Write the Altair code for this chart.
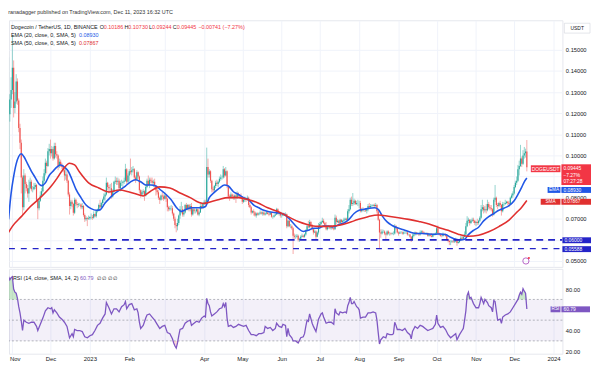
import altair as alt
import pandas as pd

FONT = "Liberation Sans"
INK = "#131722"
UP = "#26a69a"
DOWN = "#ef5350"
RED_TXT = "#f23645"
EMA_C = "#2157e6"
SMA_C = "#e0302f"
LEVEL_C = "#2424c8"
RSI_C = "#7e57c2"
GRID = "#f0f3fa"

W, PH, RH = 561, 250, 86

# ---------------- daily candles (units of 0.0001 USDT), first day 2022-10-29 ----------------
START = "2022-10-29"
OPEN0 = 836
CLOSE = [
    1195, 1265, 1310,
    1415, 1225, 1255, 1350, 1260, 1130, 1060, 895, 755, 905, 865, 845, 820, 845, 875,
    840, 840, 850, 860, 790, 750, 785, 810, 830, 880, 915, 965, 950, 1020, 1030,
    1010, 1030, 985, 1045, 1005, 1000, 950, 970, 955, 945, 930, 905, 910, 880, 815,
    760, 780, 770, 728, 790, 770, 765, 768, 768, 755, 760, 718, 698, 704, 700, 702,
    708, 708, 705, 722, 712, 735, 740, 765, 755, 775, 790, 805, 815, 870, 850,
    845, 845, 805, 830, 875, 880, 875, 880, 845, 870, 870, 875, 880, 935, 875, 905,
    925, 920, 930, 935, 895, 885, 920, 900, 835, 815, 825, 830, 810, 850, 880,
    860, 885, 880, 870, 875, 855, 835, 825, 800, 790, 810, 805, 795,
    810, 795, 755, 745, 750, 750, 725, 700, 670, 665, 680, 715, 745, 745, 720,
    730, 765, 745, 765, 745, 760, 720, 745, 735, 735, 745, 720, 730, 760, 755, 770,
    780, 775, 945, 910, 925, 880, 840, 835, 855, 870, 865, 875, 890, 895, 895,
    935, 905, 925, 855, 805, 800, 815, 805, 800, 810, 800, 820, 810, 805, 800,
    780, 790, 795, 790, 800, 765, 755, 730, 735, 730, 715, 725, 720, 725, 730,
    725, 730, 720, 725, 730, 722, 720, 728, 710, 710, 715, 720, 745, 725, 725, 715,
    715, 725, 720, 722, 665, 690, 665, 665, 655, 620, 615, 615, 620, 600, 605,
    615, 620, 615, 625, 645, 665, 660, 685, 665, 650, 635, 640, 615, 635, 665,
    675, 685, 690, 680, 665, 650, 660, 660, 655, 660, 655, 650, 705, 685, 690,
    680, 695, 685, 690, 695, 700, 695, 735, 745, 790, 770, 775, 785, 770, 775, 775,
    775, 735, 745, 740, 740, 738, 745, 760, 755, 760, 762, 765, 760, 765, 735,
    695, 635, 630, 640, 640, 630, 625, 640, 630, 630, 628, 630, 630, 665, 655, 635,
    630, 635, 635, 630, 635, 635, 635, 625, 625, 615, 600, 620, 625, 635, 630,
    630, 625, 635, 640, 635, 630, 630, 632, 620, 625, 620, 615, 625, 625, 630,
    655, 630, 625, 620, 618, 628, 625, 620, 600, 595, 590, 590, 592, 590, 592,
    600, 585, 590, 600, 610, 605, 615, 625, 665, 690, 695, 680, 690, 695, 690, 680,
    685, 680, 690, 705, 745, 755, 740, 745, 740, 770, 755, 750, 745, 720, 790,
    800, 765, 760, 775, 765, 735, 770, 770, 775, 780, 775, 770, 800, 810, 820,
    850, 870, 880, 935, 950, 985, 960, 1000, 1010, 1018.6, 944.5,
]
HIGH = [
    1465, 1290, 1370,
    1570, 1450, 1300, 1385, 1365, 1270, 1150, 1075, 905, 935, 915, 875, 860, 885, 895,
    885, 855, 870, 870, 865, 795, 795, 830, 845, 900, 935, 985, 975, 1035, 1055,
    1075, 1045, 1040, 1060, 1060, 1020, 1005, 985, 980, 965, 955, 935, 950, 925, 885,
    825, 790, 790, 775, 800, 795, 780, 775, 775, 772, 775, 765, 725, 712, 708, 715,
    712, 725, 718, 735, 725, 742, 748, 772, 790, 780, 795, 820, 825, 895, 875,
    860, 865, 870, 840, 880, 900, 895, 895, 890, 880, 885, 880, 895, 960, 940, 915,
    935, 985, 945, 950, 940, 905, 930, 925, 905, 840, 835, 840, 835, 860, 890,
    905, 895, 895, 895, 885, 890, 860, 850, 835, 805, 815, 825, 815,
    825, 815, 800, 762, 760, 765, 760, 730, 710, 680, 700, 720, 760, 780, 760,
    740, 770, 775, 770, 770, 770, 775, 755, 750, 745, 750, 748, 735, 775, 770, 775,
    790, 790, 1037, 985, 935, 930, 885, 850, 860, 880, 885, 880, 900, 910, 905,
    950, 940, 945, 930, 860, 815, 825, 820, 815, 815, 825, 830, 825, 815, 820,
    805, 795, 805, 800, 810, 805, 775, 760, 740, 745, 735, 730, 730, 730, 740,
    735, 735, 740, 730, 735, 735, 728, 735, 730, 715, 720, 725, 752, 750, 730, 730,
    722, 730, 728, 730, 725, 695, 695, 675, 672, 660, 630, 625, 628, 625, 610,
    622, 630, 625, 630, 650, 672, 690, 695, 690, 675, 655, 650, 645, 640, 680,
    685, 690, 705, 700, 685, 685, 665, 668, 665, 668, 665, 665, 720, 715, 698,
    695, 700, 698, 695, 705, 705, 705, 745, 765, 800, 805, 822, 795, 790, 785, 790,
    785, 785, 752, 755, 745, 745, 750, 770, 775, 770, 768, 770, 772, 775, 770,
    740, 700, 650, 650, 648, 645, 635, 645, 645, 638, 635, 635, 640, 675, 670, 660,
    640, 640, 642, 640, 640, 642, 640, 640, 630, 628, 618, 630, 630, 640, 638,
    635, 632, 645, 645, 645, 640, 635, 635, 635, 630, 630, 632, 630, 632, 635,
    660, 668, 635, 630, 628, 635, 630, 630, 625, 605, 600, 598, 600, 598, 598,
    610, 602, 598, 605, 620, 618, 625, 640, 680, 712, 705, 698, 698, 705, 705, 695,
    690, 700, 695, 712, 765, 790, 765, 760, 770, 790, 780, 765, 765, 750, 800,
    860, 805, 775, 780, 785, 770, 780, 778, 790, 785, 785, 785, 805, 820, 830,
    860, 880, 900, 955, 975, 1050, 995, 1025, 1040, 1032, 1073,
]
LOW = [
    830, 1160, 1225,
    1290, 1180, 1200, 1245, 1240, 1110, 1030, 820, 712, 740, 820, 830, 800, 780, 840,
    830, 825, 835, 840, 780, 698, 740, 780, 805, 825, 870, 905, 915, 945, 1000,
    985, 995, 975, 980, 990, 985, 930, 940, 945, 935, 920, 880, 885, 870, 805,
    720, 745, 755, 715, 722, 760, 750, 755, 760, 745, 745, 710, 685, 690, 665, 695,
    695, 698, 695, 700, 708, 705, 730, 735, 750, 748, 765, 775, 785, 810, 835,
    820, 830, 795, 800, 825, 865, 860, 860, 840, 830, 855, 850, 865, 875, 865, 870,
    880, 910, 905, 920, 885, 870, 880, 890, 820, 800, 810, 815, 785, 805, 845,
    855, 845, 870, 860, 850, 845, 810, 815, 790, 770, 785, 790, 785,
    790, 780, 735, 735, 738, 740, 715, 690, 655, 636, 645, 670, 700, 725, 710,
    710, 725, 740, 740, 735, 735, 710, 715, 725, 725, 730, 715, 712, 728, 745, 748,
    765, 765, 770, 895, 895, 870, 825, 825, 825, 845, 855, 850, 870, 880, 885,
    890, 895, 900, 845, 795, 785, 795, 795, 790, 790, 775, 795, 800, 800, 795,
    770, 775, 780, 780, 785, 755, 750, 720, 725, 715, 710, 705, 715, 715, 720,
    720, 715, 715, 715, 720, 720, 712, 718, 705, 700, 705, 712, 718, 720, 715, 705,
    705, 712, 715, 715, 655, 660, 660, 655, 648, 533, 605, 605, 610, 592, 590,
    600, 612, 610, 610, 620, 640, 655, 655, 660, 645, 625, 632, 605, 612, 625,
    660, 668, 680, 675, 660, 645, 645, 652, 650, 648, 650, 645, 648, 675, 680,
    675, 670, 675, 680, 685, 690, 690, 690, 725, 740, 760, 760, 765, 765, 765, 760,
    750, 730, 730, 735, 732, 732, 725, 735, 745, 750, 755, 758, 755, 750, 725,
    690, 556, 610, 625, 632, 622, 600, 620, 625, 620, 622, 625, 622, 625, 648, 630,
    620, 628, 630, 625, 625, 628, 628, 620, 620, 610, 590, 598, 612, 620, 622,
    625, 618, 620, 630, 630, 625, 625, 625, 615, 615, 615, 612, 612, 620, 622,
    625, 628, 620, 615, 612, 615, 620, 615, 595, 588, 575, 575, 585, 585, 585,
    588, 572, 582, 585, 595, 598, 600, 612, 620, 660, 678, 668, 675, 685, 680, 670,
    665, 670, 672, 685, 700, 735, 725, 730, 725, 735, 745, 740, 735, 710, 715,
    780, 755, 745, 755, 755, 715, 730, 760, 765, 770, 765, 755, 765, 795, 800,
    815, 845, 860, 875, 905, 945, 945, 955, 985, 990, 924.4,
]

# ---------------- indicator readings ----------------
EMA_DATES = [
    "2022-10-29", "2022-10-31", "2022-11-02", "2022-11-04", "2022-11-06", "2022-11-08",
    "2022-11-10", "2022-11-13", "2022-11-16", "2022-11-19", "2022-11-22", "2022-11-24",
    "2022-11-27", "2022-11-30", "2022-12-03", "2022-12-06", "2022-12-09", "2022-12-12",
    "2022-12-15", "2022-12-18", "2022-12-21", "2022-12-25", "2022-12-29", "2023-01-02",
    "2023-01-06", "2023-01-09", "2023-01-13", "2023-01-17", "2023-01-21", "2023-01-25",
    "2023-01-29", "2023-02-02", "2023-02-06", "2023-02-10", "2023-02-14", "2023-02-18",
    "2023-02-22", "2023-02-26", "2023-03-02", "2023-03-06", "2023-03-10", "2023-03-14",
    "2023-03-18", "2023-03-22", "2023-03-26", "2023-03-30", "2023-04-02", "2023-04-05",
    "2023-04-09", "2023-04-13", "2023-04-17", "2023-04-20", "2023-04-24", "2023-04-28",
    "2023-05-02", "2023-05-06", "2023-05-10", "2023-05-14", "2023-05-18", "2023-05-22",
    "2023-05-26", "2023-05-30", "2023-06-03", "2023-06-07", "2023-06-10", "2023-06-14",
    "2023-06-18", "2023-06-22", "2023-06-26", "2023-06-30", "2023-07-04", "2023-07-08",
    "2023-07-12", "2023-07-16", "2023-07-20", "2023-07-24", "2023-07-28", "2023-08-01",
    "2023-08-05", "2023-08-09", "2023-08-13", "2023-08-16", "2023-08-19", "2023-08-23",
    "2023-08-27", "2023-08-31", "2023-09-05", "2023-09-10", "2023-09-15", "2023-09-20",
    "2023-09-25", "2023-09-30", "2023-10-04", "2023-10-08", "2023-10-12", "2023-10-16",
    "2023-10-20", "2023-10-23", "2023-10-26", "2023-10-30", "2023-11-03", "2023-11-07",
    "2023-11-11", "2023-11-15", "2023-11-19", "2023-11-23", "2023-11-27", "2023-12-01",
    "2023-12-04", "2023-12-07", "2023-12-09", "2023-12-11",
]
EMA_VALUES = [
    697, 820, 900, 960, 995, 1008, 995, 960, 925, 895, 865, 857,
    870, 905, 925, 945, 955, 945, 925, 885, 840, 800, 765, 748,
    740, 742, 775, 800, 822, 838, 855, 875, 885, 875, 860, 860,
    855, 835, 815, 790, 755, 735, 745, 752, 752, 752, 758, 800,
    825, 845, 860, 855, 828, 815, 800, 790, 765, 752, 740, 733,
    730, 727, 720, 700, 680, 655, 640, 645, 655, 655, 665, 665,
    662, 672, 680, 697, 725, 740, 745, 750, 752, 745, 715, 685,
    668, 657, 648, 637, 630, 630, 628, 627, 628, 625, 612, 603,
    600, 603, 625, 645, 660, 690, 710, 725, 740, 750, 762, 785,
    815, 850, 875, 893,
]
SMA_DATES = [
    "2022-10-29", "2022-11-01", "2022-11-08", "2022-11-15", "2022-11-23", "2022-12-01",
    "2022-12-06", "2022-12-11", "2022-12-16", "2022-12-20", "2022-12-24", "2022-12-31",
    "2023-01-08", "2023-01-16", "2023-01-24", "2023-02-01", "2023-02-09", "2023-02-12",
    "2023-02-17", "2023-02-25", "2023-03-05", "2023-03-13", "2023-03-21", "2023-03-28",
    "2023-04-01", "2023-04-05", "2023-04-12", "2023-04-20", "2023-04-28", "2023-05-06",
    "2023-05-13", "2023-05-21", "2023-05-29", "2023-06-06", "2023-06-14", "2023-06-21",
    "2023-06-29", "2023-07-07", "2023-07-15", "2023-07-23", "2023-07-31", "2023-08-08",
    "2023-08-16", "2023-08-24", "2023-09-01", "2023-09-09", "2023-09-17", "2023-09-25",
    "2023-10-02", "2023-10-10", "2023-10-18", "2023-10-26", "2023-11-03", "2023-11-11",
    "2023-11-19", "2023-11-27", "2023-12-03", "2023-12-07", "2023-12-11",
]
SMA_VALUES = [
    636, 664, 710, 757, 800, 850, 890, 935, 963, 955, 920, 870,
    846, 827, 836, 827, 813, 808, 827, 851, 846, 822, 800, 777,
    772, 778, 790, 800, 800, 790, 776, 752, 734, 710, 687, 673,
    664, 664, 668, 680, 696, 710, 718, 712, 705, 697, 687, 675,
    660, 645, 627, 617, 622, 638, 663, 694, 730, 755, 786.7,
]
RSI_DATES = [
    "2022-10-29", "2022-10-30", "2022-10-31", "2022-11-01", "2022-11-02", "2022-11-03",
    "2022-11-04", "2022-11-05", "2022-11-06", "2022-11-07", "2022-11-08", "2022-11-09",
    "2022-11-10", "2022-11-12", "2022-11-14", "2022-11-16", "2022-11-18", "2022-11-20",
    "2022-11-21", "2022-11-23", "2022-11-25", "2022-11-27", "2022-11-29", "2022-12-01",
    "2022-12-02", "2022-12-03", "2022-12-04", "2022-12-06", "2022-12-08", "2022-12-10",
    "2022-12-12", "2022-12-14", "2022-12-16", "2022-12-18", "2022-12-19", "2022-12-20",
    "2022-12-22", "2022-12-24", "2022-12-26", "2022-12-28", "2022-12-30", "2023-01-01",
    "2023-01-03", "2023-01-05", "2023-01-07", "2023-01-09", "2023-01-11", "2023-01-13",
    "2023-01-14", "2023-01-16", "2023-01-18", "2023-01-20", "2023-01-22", "2023-01-24",
    "2023-01-26", "2023-01-28", "2023-01-29", "2023-01-30", "2023-02-01", "2023-02-03",
    "2023-02-05", "2023-02-07", "2023-02-08", "2023-02-09", "2023-02-10", "2023-02-12",
    "2023-02-14", "2023-02-15", "2023-02-17", "2023-02-19", "2023-02-21", "2023-02-23",
    "2023-02-25", "2023-02-27", "2023-03-01", "2023-03-03", "2023-03-05", "2023-03-07",
    "2023-03-08", "2023-03-09", "2023-03-10", "2023-03-11", "2023-03-12", "2023-03-13",
    "2023-03-15", "2023-03-17", "2023-03-19", "2023-03-21", "2023-03-22", "2023-03-24",
    "2023-03-26", "2023-03-28", "2023-03-30", "2023-04-01", "2023-04-02", "2023-04-03",
    "2023-04-04", "2023-04-05", "2023-04-06", "2023-04-07", "2023-04-09", "2023-04-11",
    "2023-04-13", "2023-04-15", "2023-04-16", "2023-04-17", "2023-04-18", "2023-04-19",
    "2023-04-20", "2023-04-22", "2023-04-24", "2023-04-26", "2023-04-28", "2023-04-30",
    "2023-05-02", "2023-05-04", "2023-05-06", "2023-05-08", "2023-05-10", "2023-05-12",
    "2023-05-14", "2023-05-16", "2023-05-18", "2023-05-19", "2023-05-21", "2023-05-23",
    "2023-05-25", "2023-05-27", "2023-05-28", "2023-05-30", "2023-06-01", "2023-06-02",
    "2023-06-04", "2023-06-05", "2023-06-06", "2023-06-07", "2023-06-09", "2023-06-10",
    "2023-06-12", "2023-06-14", "2023-06-16", "2023-06-18", "2023-06-19", "2023-06-20",
    "2023-06-21", "2023-06-22", "2023-06-23", "2023-06-25", "2023-06-26", "2023-06-28",
    "2023-06-29", "2023-06-30", "2023-07-02", "2023-07-03", "2023-07-04", "2023-07-06",
    "2023-07-08", "2023-07-10", "2023-07-12", "2023-07-13", "2023-07-14", "2023-07-16",
    "2023-07-17", "2023-07-19", "2023-07-21", "2023-07-22", "2023-07-23", "2023-07-24",
    "2023-07-25", "2023-07-26", "2023-07-27", "2023-07-28", "2023-07-30", "2023-07-31",
    "2023-08-01", "2023-08-02", "2023-08-04", "2023-08-06", "2023-08-08", "2023-08-10",
    "2023-08-12", "2023-08-14", "2023-08-15", "2023-08-16", "2023-08-17", "2023-08-18",
    "2023-08-20", "2023-08-22", "2023-08-23", "2023-08-25", "2023-08-27", "2023-08-28",
    "2023-08-29", "2023-08-30", "2023-08-31", "2023-09-02", "2023-09-04", "2023-09-06",
    "2023-09-08", "2023-09-10", "2023-09-11", "2023-09-12", "2023-09-14", "2023-09-16",
    "2023-09-18", "2023-09-20", "2023-09-22", "2023-09-24", "2023-09-26", "2023-09-28",
    "2023-09-30", "2023-10-01", "2023-10-02", "2023-10-04", "2023-10-06", "2023-10-08",
    "2023-10-10", "2023-10-12", "2023-10-14", "2023-10-16", "2023-10-17", "2023-10-19",
    "2023-10-21", "2023-10-22", "2023-10-23", "2023-10-24", "2023-10-25", "2023-10-26",
    "2023-10-27", "2023-10-28", "2023-10-30", "2023-11-01", "2023-11-03", "2023-11-04",
    "2023-11-05", "2023-11-07", "2023-11-08", "2023-11-10", "2023-11-11", "2023-11-13",
    "2023-11-14", "2023-11-15", "2023-11-16", "2023-11-17", "2023-11-18", "2023-11-20",
    "2023-11-21", "2023-11-22", "2023-11-24", "2023-11-26", "2023-11-28", "2023-11-30",
    "2023-12-02", "2023-12-04", "2023-12-05", "2023-12-06", "2023-12-07", "2023-12-08",
    "2023-12-09", "2023-12-10", "2023-12-11",
]
RSI_VALUES = [
    92, 89, 91, 92, 80, 77,
    76, 71, 63, 57, 49, 40,
    50, 48, 47, 48, 48, 44,
    40, 46, 52, 59, 62, 61,
    62, 57, 60, 57, 53, 51,
    48, 44, 33, 37, 34, 41,
    40, 40, 39, 34, 33, 35,
    36, 40, 45, 47, 52, 56,
    67, 62, 56, 61, 61, 58,
    63, 65, 68, 61, 65, 66,
    60, 61, 57, 48, 42, 45,
    52, 55, 56, 53, 50, 46,
    42, 44, 45, 38, 37, 32,
    28, 25, 23, 28, 35, 41,
    42, 47, 49, 50, 45, 47,
    49, 48, 52, 54, 53, 71,
    66, 64, 58, 54, 56, 58,
    61, 62, 66, 63, 67, 52,
    44, 45, 43, 44, 46, 45,
    44, 45, 40, 36, 36, 35,
    37, 37, 38, 44, 42, 43,
    40, 42, 47, 44, 43, 46,
    45, 34, 42, 36, 33, 30,
    30, 28, 33, 34, 37, 44,
    50, 49, 56, 47, 44, 39,
    45, 51, 56, 57, 53, 47,
    48, 48, 46, 61, 57, 55,
    58, 57, 58, 57, 64, 67,
    72, 66, 66, 68, 63, 62,
    60, 52, 53, 53, 57, 57,
    58, 57, 50, 38, 27, 31,
    34, 33, 37, 36, 36, 37,
    48, 45, 41, 41, 40, 42,
    38, 36, 32, 39, 44, 42,
    45, 44, 42, 40, 41, 42,
    46, 55, 47, 43, 44, 41,
    36, 33, 35, 37, 31, 36,
    40, 42, 50, 59, 74, 77,
    71, 72, 66, 62, 62, 66,
    72, 66, 70, 67, 64, 62,
    58, 69, 68, 59, 50, 51,
    47, 53, 55, 56, 58, 62,
    66, 70, 74, 77, 75, 80.5,
    78, 76, 60.79,
]

LEVEL_VALUES = [0.06, 0.05588]
LEVEL_FROM = ["2022-12-20T00:00:00Z", "2022-10-29T08:00:00Z"]
LEVEL_TO = ["2024-01-08T00:00:00Z", "2024-01-08T00:00:00Z"]
LEVEL_KIND = ["upper", "lower"]
PRICE_TICKS = [0.05, 0.06, 0.07, 0.08, 0.09, 0.10, 0.11, 0.12, 0.13, 0.14, 0.15]
RSI_TICKS = [20, 40, 60, 80]
RSI_LEVELS = [70, 50, 30]
MONTHS = [(2022, 11), (2022, 12)] + [(2023, m) for m in range(1, 13)] + [(2024, 1)]

# ---------------- tables ----------------
assert len(CLOSE) == len(HIGH) == len(LOW)
dates = pd.date_range(START, periods=len(CLOSE), freq="D").strftime("%Y-%m-%d")
close = [v / 1e4 for v in CLOSE]
opens = [OPEN0 / 1e4] + close[:-1]
candles = pd.DataFrame({
    "date": list(dates), "open": opens, "close": close,
    "high": [v / 1e4 for v in HIGH], "low": [v / 1e4 for v in LOW],
})
candles["dir"] = ["up" if c >= o else "down" for o, c in zip(candles["open"], candles["close"])]
ema = pd.DataFrame({"date": EMA_DATES, "v": [v / 1e4 for v in EMA_VALUES]})
sma = pd.DataFrame({"date": SMA_DATES, "v": [v / 1e4 for v in SMA_VALUES]})
rsi = pd.DataFrame({"date": RSI_DATES, "v": RSI_VALUES})
levels = pd.DataFrame({"start": LEVEL_FROM, "end": LEVEL_TO, "level": LEVEL_VALUES, "kind": LEVEL_KIND})
rsi_levels = pd.DataFrame({"lvl": RSI_LEVELS})
band = pd.DataFrame({"hi": [70], "lo": [30]})
ONE = pd.DataFrame({"k": [0]})

XDOM = [alt.DateTime(year=2022, month=10, date=29, hours=8, utc=True),
        alt.DateTime(year=2024, month=1, date=8, utc=True)]
month_vals = [alt.DateTime(year=y, month=m, date=1, utc=True) for y, m in MONTHS]
xscale = alt.Scale(type="utc", domain=XDOM)
py = alt.Scale(domain=[0.047196, 0.16402], nice=False, zero=False)
ry = alt.Scale(domain=[17.62, 99.52], nice=False, zero=False)
cscale = alt.Scale(domain=["up", "down"], range=[UP, DOWN])

grid_axis = alt.Axis(values=month_vals, grid=True, gridColor=GRID, labels=False, ticks=False,
                     domain=False, title=None)
# labels for 0.06 / 0.09 sit under the price tags on the scale, as in the reference
price_axis = alt.Axis(orient="right", values=PRICE_TICKS, labelFontSize=5.8,
                      labelColor=INK, labelFont=FONT, ticks=False, domain=False, labelPadding=3,
                      grid=True, gridColor=GRID, title=None, labelAlign="left",
                      labelExpr="(abs(datum.value - 0.06) < 1e-6 || abs(datum.value - 0.09) < 1e-6) ? '' : format(datum.value, '.5f')")
time_axis = alt.Axis(values=month_vals, grid=True, gridColor=GRID, ticks=False, domain=False,
                     title=None, labelFontSize=6, labelColor=INK, labelFont=FONT, labelPadding=2,
                     labelFlush=5, labelFlushOffset=3, labelOverlap=False,
                     labelExpr="utcFormat(datum.value, '%m') == '01' ? utcFormat(datum.value, '%Y') : "
                               "(utcFormat(datum.value, '%m') == '03' ? '' : utcFormat(datum.value, '%b'))")
rsi_axis = alt.Axis(orient="right", values=RSI_TICKS, labelFontSize=5.8,
                    labelColor=INK, labelFont=FONT, ticks=False, domain=False, labelPadding=3,
                    grid=False, title=None, labelAlign="left",
                    labelExpr="datum.value == 60 ? '' : format(datum.value, '.2f')")

PX = alt.X("date:T", scale=xscale, axis=grid_axis)
RX = alt.X("date:T", scale=xscale, axis=time_axis)


def ann_text(s, x, y, color=INK, size=5.5, align="left"):
    return alt.Chart(ONE).mark_text(text=s, align=align, baseline="middle", fontSize=size,
                                    font=FONT, color=color).encode(x=alt.value(x), y=alt.value(y))


def ann_box(x1, x2, y1, y2, fill, stroke=None):
    props = {"fill": fill}
    if stroke:
        props["stroke"] = stroke
        props["strokeWidth"] = 0.6
    return alt.Chart(ONE).mark_rect(**props).encode(
        x=alt.value(x1), x2=alt.value(x2), y=alt.value(y1), y2=alt.value(y2))


# ---------------- price pane ----------------
cb = alt.Chart(candles)
wick = cb.mark_rule(strokeWidth=0.7, opacity=0.7, clip=True).encode(
    x=PX, y=alt.Y("low:Q", scale=py, axis=price_axis), y2="high:Q",
    color=alt.Color("dir:N", scale=cscale, legend=None),
)
body = cb.mark_rule(strokeWidth=1.15, clip=True).encode(
    x=PX, y=alt.Y("open:Q", scale=py, axis=price_axis), y2="close:Q",
    color=alt.Color("dir:N", scale=cscale, legend=None),
)
ema_line = alt.Chart(ema).mark_line(color=EMA_C, strokeWidth=1.6, interpolate="monotone", clip=True).encode(
    x=PX, y=alt.Y("v:Q", scale=py, axis=price_axis))
sma_line = alt.Chart(sma).mark_line(color=SMA_C, strokeWidth=1.6, interpolate="monotone", clip=True).encode(
    x=PX, y=alt.Y("v:Q", scale=py, axis=price_axis))
lvl_upper = alt.Chart(levels).transform_filter("datum.kind == 'upper'").mark_rule(
    color=LEVEL_C, strokeWidth=2, strokeDash=[7, 5], clip=True).encode(
    x=alt.X("start:T", scale=xscale, axis=grid_axis), x2="end:T",
    y=alt.Y("level:Q", scale=py, axis=price_axis))
lvl_lower = alt.Chart(levels).transform_filter("datum.kind == 'lower'").mark_rule(
    color=LEVEL_C, strokeWidth=1.4, strokeDash=[6, 6], clip=True).encode(
    x=alt.X("start:T", scale=xscale, axis=grid_axis), x2="end:T",
    y=alt.Y("level:Q", scale=py, axis=price_axis))

price_ann = [
    ann_text("Dogecoin / TetherUS, 1D, BINANCE", 2, 7),
    ann_text("O", 92, 7), ann_text("0.10186", 96, 7, RED_TXT),
    ann_text("H", 117, 7), ann_text("0.10730", 121, 7, RED_TXT),
    ann_text("L", 142, 7), ann_text("0.09244", 145, 7, RED_TXT),
    ann_text("C", 166, 7), ann_text("0.09445", 170, 7, RED_TXT),
    ann_text("\u22120.00741 (\u22127.27%)", 192, 7, RED_TXT),
    ann_text("EMA (20, close, 0, SMA, 5)", 2, 15), ann_text("0.08930", 71, 15, EMA_C),
    ann_text("SMA (50, close, 0, SMA, 5)", 2, 23), ann_text("0.07867", 71, 23, SMA_C),
    ann_box(563, 589, 3, 13, "#ffffff", "#d1d4dc"), ann_text("USDT", 576, 8, INK, 5, "center"),
    ann_box(529, 559, 147, 154, RED_TXT), ann_text("DOGEUSDT", 544, 150.5, "#ffffff", 5, "center"),
    ann_box(560, 590, 146, 167, RED_TXT),
    ann_text("0.09445", 562, 150, "#ffffff", 5), ann_text("\u22127.27%", 562, 156.5, "#ffffff", 5),
    ann_text("07:27:28", 562, 163, "#ffffff", 5),
    ann_box(546, 559, 169, 175, EMA_C), ann_text("EMA", 552.5, 172, "#ffffff", 4.8, "center"),
    ann_box(560, 590, 169, 175, EMA_C), ann_text("0.08930", 562, 172, "#ffffff", 5),
    ann_box(539, 559, 181, 187, SMA_C), ann_text("SMA", 549, 184, "#ffffff", 4.8, "center"),
    ann_box(560, 590, 181, 187, SMA_C), ann_text("0.07867", 562, 184.2, "#ffffff", 4.8),
    ann_box(561, 590, 220, 226, LEVEL_C), ann_text("0.06000", 563, 223, "#ffffff", 5),
    ann_box(561, 590, 229, 235, LEVEL_C), ann_text("0.05588", 563, 232, "#ffffff", 5),
    alt.Chart(ONE).mark_point(shape="circle", size=40, stroke="#9c27b0", strokeWidth=1, filled=False).encode(
        x=alt.value(524), y=alt.value(244)),
    alt.Chart(ONE).mark_point(shape="circle", size=5, fill=RED_TXT, filled=True, opacity=1).encode(
        x=alt.value(527), y=alt.value(241)),
]

price = alt.layer(wick, body, ema_line, sma_line, lvl_upper, lvl_lower, *price_ann).properties(
    width=W, height=PH)

# ---------------- RSI pane ----------------
band_rect = alt.Chart(band).mark_rect(color=RSI_C, opacity=0.09).encode(
    x=alt.value(0), x2=alt.value(W), y=alt.Y("hi:Q", scale=ry, axis=rsi_axis), y2="lo:Q")
rsi_rules = alt.Chart(rsi_levels).mark_rule(color="#9598a1", strokeWidth=0.7, strokeDash=[2, 2]).encode(
    y=alt.Y("lvl:Q", scale=ry, axis=rsi_axis))
ob_fill = alt.Chart(rsi).transform_calculate(ob="max(datum.v, 70)", base="70").mark_area(
    color="#4caf50", opacity=0.3, clip=True).encode(
    x=RX, y=alt.Y("ob:Q", scale=ry, axis=rsi_axis), y2="base:Q")
os_fill = alt.Chart(rsi).transform_calculate(os="min(datum.v, 30)", base="30").mark_area(
    color=RED_TXT, opacity=0.2, clip=True).encode(
    x=RX, y=alt.Y("os:Q", scale=ry, axis=rsi_axis), y2="base:Q")
rsi_line = alt.Chart(rsi).mark_line(color=RSI_C, strokeWidth=1.3, clip=True).encode(
    x=RX, y=alt.Y("v:Q", scale=ry, axis=rsi_axis))
rsi_ann = [
    ann_text("RSI (14, close, SMA, 14, 2)", 4, 9),
    ann_text("60.79", 72, 9, RSI_C),
    ann_text("\u2205 \u2205 \u2205 \u2205", 89, 9, INK, 5),
    ann_box(549, 559, 38, 44, RSI_C), ann_text("RSI", 554, 41, "#ffffff", 4.8, "center"),
    ann_box(560, 589, 38, 44, RSI_C), ann_text("60.79", 562, 41, "#ffffff", 5),
]
rsi_chart = alt.layer(band_rect, rsi_rules, ob_fill, os_fill, rsi_line, *rsi_ann).properties(
    width=W, height=RH)

chart = alt.vconcat(price, rsi_chart, spacing=0).properties(
    title=alt.TitleParams("ranadagger published on TradingView.com, Dec 11, 2023 16:32 UTC",
                          anchor="start", fontSize=5.5, fontWeight="normal", color="#333333",
                          font=FONT, offset=4),
    padding={"left": 0, "top": 0, "right": 0, "bottom": 0},
    background="#ffffff",
).configure_view(stroke="#e6e8ee").configure_concat(spacing=0)

chart.save("out.html", embed_options={"renderer": "svg", "actions": False})
